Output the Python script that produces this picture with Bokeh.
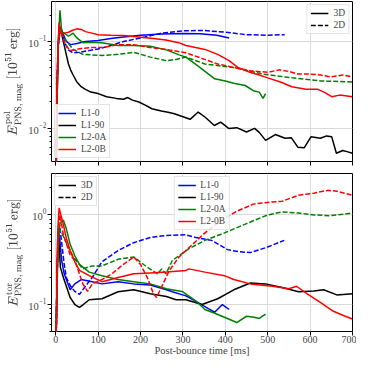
from bokeh.plotting import figure
from bokeh.layouts import column
from bokeh.models import Legend, LegendItem, FixedTicker, Range1d, TeX
from bokeh.embed import file_html
from bokeh.resources import INLINE

# ---------------- data: poloidal magnetic energy (top panel) ----------------
pol_L10_3D_t = [0, 3, 5, 8, 12, 18, 25, 35, 50, 70, 100, 130, 160, 200, 250, 300, 340, 380, 409]
pol_L10_3D_v = [0.001, 0.03, 0.08, 0.12, 0.145, 0.12, 0.1, 0.092, 0.095, 0.1, 0.103, 0.108, 0.113,
                0.118, 0.122, 0.124, 0.123, 0.118, 0.11]
pol_L10_2D_t = [0, 3, 6, 10, 15, 22, 30, 40, 55, 75, 100, 130, 160, 200, 250, 300, 350, 400, 450, 500, 540]
pol_L10_2D_v = [0.001, 0.03, 0.09, 0.13, 0.12, 0.095, 0.08, 0.074, 0.075, 0.078, 0.082, 0.09, 0.1, 0.11,
                0.125, 0.133, 0.134, 0.128, 0.12, 0.118, 0.12]
pol_L190_3D_t = [0, 3, 6, 9, 12, 16, 20, 25, 30, 35, 41, 50, 60, 70, 83, 100, 120, 143, 160, 170, 181,
                 196, 210, 227, 249, 265, 280, 300, 317, 336, 352, 374, 389, 408, 427, 450, 469, 480,
                 495, 518, 541, 556, 571, 586, 602, 624, 639, 651, 662, 677, 689, 700]
pol_L190_3D_v = [0.001, 0.02, 0.09, 0.15, 0.14, 0.11, 0.09, 0.07, 0.055, 0.047, 0.041, 0.034, 0.030,
                 0.028, 0.026, 0.025, 0.023, 0.022, 0.0215, 0.0225, 0.021, 0.020, 0.0185, 0.0167, 0.0157,
                 0.0152, 0.0146, 0.0135, 0.0126, 0.0153, 0.0134, 0.0107, 0.0117, 0.0099, 0.0101, 0.009,
                 0.0099, 0.0089, 0.0072, 0.0084, 0.0076, 0.0077, 0.006, 0.0059, 0.0079, 0.0076, 0.0081,
                 0.0079, 0.0051, 0.0055, 0.0053, 0.0051]
pol_L20A_3D_t = [0, 3, 6, 10, 14, 20, 30, 41, 50, 64, 80, 109, 147, 184, 223, 261, 291, 307, 336, 375,
                 400, 420, 447, 466, 480, 489, 495]
pol_L20A_3D_v = [0.001, 0.02, 0.1, 0.23, 0.13, 0.125, 0.115, 0.125, 0.11, 0.097, 0.098, 0.097, 0.09,
                 0.09, 0.088, 0.08, 0.07, 0.066, 0.052, 0.037, 0.035, 0.033, 0.031, 0.027, 0.026, 0.022, 0.025]
pol_L20A_2D_t = [0, 3, 6, 10, 14, 20, 30, 41, 64, 109, 147, 184, 223, 261, 284, 307, 352, 420, 489, 557, 625, 700]
pol_L20A_2D_v = [0.001, 0.03, 0.1, 0.14, 0.12, 0.11, 0.095, 0.081, 0.071, 0.069, 0.071, 0.075, 0.066,
                 0.06, 0.062, 0.066, 0.055, 0.05, 0.042, 0.038, 0.035, 0.034]
pol_L20B_3D_t = [0, 3, 6, 8, 11, 15, 20, 30, 40, 50, 60, 70, 85, 100, 130, 160, 200, 230, 260, 290, 307,
                 330, 352, 382, 409, 430, 458, 480, 500, 530, 557, 590, 618, 633, 651, 670, 700]
pol_L20B_3D_v = [0.001, 0.02, 0.1, 0.165, 0.13, 0.12, 0.125, 0.128, 0.135, 0.14, 0.138, 0.13, 0.125,
                 0.12, 0.118, 0.117, 0.112, 0.108, 0.104, 0.097, 0.09, 0.085, 0.081, 0.071, 0.06, 0.05,
                 0.044, 0.041, 0.038, 0.034, 0.03, 0.028, 0.028, 0.026, 0.023, 0.024, 0.023]
pol_L20B_2D_t = [0, 3, 6, 10, 14, 20, 28, 35, 45, 60, 80, 110, 147, 184, 223, 261, 307, 340, 382, 420,
                 458, 500, 527, 550, 572, 600, 625, 648, 665, 677, 700]
pol_L20B_2D_v = [0.001, 0.03, 0.1, 0.14, 0.12, 0.1, 0.085, 0.079, 0.08, 0.083, 0.085, 0.085, 0.092,
                 0.092, 0.085, 0.081, 0.074, 0.065, 0.055, 0.05, 0.046, 0.044, 0.047, 0.045, 0.042,
                 0.042, 0.041, 0.039, 0.04, 0.041, 0.039]

# ---------------- data: toroidal magnetic energy (bottom panel) ----------------
tor_L10_3D_t = [0, 3, 7, 10, 14, 20, 25, 34, 45, 60, 86, 109, 147, 184, 223, 261, 275, 307, 336, 360,
                375, 393, 409]
tor_L10_3D_v = [0.02, 0.2, 0.72, 0.5, 0.31, 0.22, 0.19, 0.146, 0.17, 0.19, 0.18, 0.17, 0.18, 0.17,
                0.165, 0.146, 0.139, 0.125, 0.105, 0.09, 0.082, 0.1, 0.088]
tor_L10_2D_t = [0, 3, 6, 10, 15, 20, 25, 35, 45, 56, 70, 86, 109, 147, 184, 223, 261, 307, 330, 368,
                405, 430, 459, 495, 539]
tor_L10_2D_v = [0.02, 0.2, 0.6, 0.72, 0.45, 0.28, 0.2, 0.16, 0.14, 0.13, 0.16, 0.2, 0.3, 0.4, 0.49,
                0.56, 0.59, 0.6, 0.56, 0.52, 0.41, 0.39, 0.38, 0.43, 0.52]
tor_L190_3D_t = [0, 3, 5, 8, 11, 18, 25, 34, 45, 56, 65, 79, 109, 147, 184, 223, 261, 284, 307, 345,
                 382, 420, 459, 495, 534, 573, 609, 632, 663, 700]
tor_L190_3D_v = [0.02, 0.2, 0.65, 0.45, 0.26, 0.2, 0.16, 0.12, 0.1, 0.093, 0.1, 0.113, 0.116, 0.139,
                 0.146, 0.132, 0.123, 0.113, 0.113, 0.1, 0.116, 0.146, 0.174, 0.17, 0.155, 0.139, 0.142,
                 0.146, 0.128, 0.132]
tor_L20A_3D_t = [0, 3, 6, 10, 18, 25, 34, 45, 56, 79, 109, 147, 184, 223, 261, 298, 330, 352, 375, 398,
                 427, 450, 468, 480, 495]
tor_L20A_3D_v = [0.02, 0.15, 0.5, 0.8, 0.88, 0.7, 0.47, 0.35, 0.28, 0.23, 0.21, 0.19, 0.18, 0.17, 0.15,
                 0.14, 0.11, 0.088, 0.08, 0.072, 0.063, 0.074, 0.072, 0.07, 0.078]
tor_L20A_2D_t = [0, 3, 6, 10, 15, 25, 41, 64, 86, 109, 147, 184, 216, 240, 250, 260, 275, 314, 352, 398,
                 450, 500, 534, 573, 609, 648, 700]
tor_L20A_2D_v = [0.02, 0.2, 0.55, 0.67, 0.62, 0.49, 0.34, 0.25, 0.27, 0.27, 0.32, 0.34, 0.26, 0.22,
                 0.25, 0.22, 0.31, 0.42, 0.52, 0.63, 0.8, 1.0, 1.08, 1.05, 1.0, 0.98, 1.05]
tor_L20B_3D_t = [0, 3, 5, 8, 12, 18, 25, 34, 45, 56, 79, 109, 130, 147, 184, 223, 261, 307, 314, 352,
                 398, 420, 459, 511, 550, 568, 595, 625, 655, 680, 700]
tor_L20B_3D_v = [0.02, 0.2, 0.7, 1.2, 1.0, 0.78, 0.55, 0.4, 0.3, 0.24, 0.21, 0.18, 0.19, 0.2, 0.22,
                 0.225, 0.23, 0.24, 0.25, 0.23, 0.21, 0.19, 0.17, 0.16, 0.15, 0.16, 0.13, 0.105, 0.084,
                 0.075, 0.069]
tor_L20B_2D_t = [0, 3, 6, 10, 18, 34, 45, 64, 75, 86, 109, 132, 155, 184, 200, 216, 231, 238, 253, 268,
                 291, 307, 352, 389, 427, 466, 500, 534, 573, 609, 641, 663, 700]
tor_L20B_2D_v = [0.02, 0.2, 0.7, 1.0, 0.6, 0.36, 0.31, 0.17, 0.14, 0.17, 0.19, 0.22, 0.27, 0.34, 0.28,
                 0.2, 0.13, 0.12, 0.17, 0.24, 0.34, 0.4, 0.63, 0.86, 1.1, 1.32, 1.38, 1.42, 1.66, 1.75,
                 1.88, 1.84, 1.66]

models = ["L1-0", "L1-90", "L2-0A", "L2-0B"]
colors = ["#0000ff", "#000000", "#008000", "#ff0000"]
dims = ["3D", "2D"]
x_ticks = [0, 100, 200, 300, 400, 500, 600, 700]
pol_yticks = [0.01, 0.1]
tor_yticks = [0.1, 1.0]
pol_ylim = (0.0041, 0.29)
tor_ylim = (0.05, 2.9)
xlim = (-10, 700)

pol_series = {
    "L1-0": [(pol_L10_3D_t, pol_L10_3D_v), (pol_L10_2D_t, pol_L10_2D_v)],
    "L1-90": [(pol_L190_3D_t, pol_L190_3D_v), None],
    "L2-0A": [(pol_L20A_3D_t, pol_L20A_3D_v), (pol_L20A_2D_t, pol_L20A_2D_v)],
    "L2-0B": [(pol_L20B_3D_t, pol_L20B_3D_v), (pol_L20B_2D_t, pol_L20B_2D_v)],
}
tor_series = {
    "L1-0": [(tor_L10_3D_t, tor_L10_3D_v), (tor_L10_2D_t, tor_L10_2D_v)],
    "L1-90": [(tor_L190_3D_t, tor_L190_3D_v), None],
    "L2-0A": [(tor_L20A_3D_t, tor_L20A_3D_v), (tor_L20A_2D_t, tor_L20A_2D_v)],
    "L2-0B": [(tor_L20B_3D_t, tor_L20B_3D_v), (tor_L20B_2D_t, tor_L20B_2D_v)],
}

SERIF = "'Liberation Serif'"
DASH = "5 2"


def minor_log(lo, hi):
    out = []
    d = 1e-4
    while d < hi * 10:
        for m in range(2, 10):
            v = m * d
            if lo <= v <= hi:
                out.append(v)
        d *= 10
    return out


def make_fig(height, ylim, yticks, series, ylabel, show_x, mbt, mbb):
    p = figure(width=356, height=height, y_axis_type="log", output_backend="svg",
               toolbar_location=None, x_range=Range1d(*xlim), y_range=Range1d(*ylim),
               min_border_left=40, min_border_right=4, min_border_top=mbt, min_border_bottom=mbb)
    p.outline_line_color = "black"
    p.outline_line_width = 1
    p.background_fill_color = "white"
    xt = FixedTicker(ticks=x_ticks, minor_ticks=[])
    yt = FixedTicker(ticks=yticks, minor_ticks=minor_log(*ylim))
    p.xaxis.ticker = xt
    p.yaxis.ticker = yt
    p.xgrid.ticker = xt
    p.ygrid.ticker = yt
    for g in (p.xgrid, p.ygrid):
        g.grid_line_color = "#d9d9d9"
        g.grid_line_width = 1
    for ax in (p.xaxis, p.yaxis):
        ax.axis_line_color = None
        ax.major_tick_in = 0
        ax.major_tick_out = 4
        ax.minor_tick_in = 0
        ax.minor_tick_out = 2
        ax.major_label_text_font = SERIF
        ax.major_label_text_font_size = "10.5px"
        ax.major_label_standoff = 1
        ax.axis_label_text_font = SERIF
        ax.axis_label_text_font_style = "normal"
        ax.axis_label_text_font_size = "11px"
    p.xaxis.minor_tick_line_color = None
    p.yaxis.axis_label = TeX(text=ylabel)
    p.yaxis.axis_label_text_font_size = "12.5px"
    p.yaxis.axis_label_standoff = 2
    if show_x:
        p.xaxis.axis_label = "Post-bounce time [ms]"
        p.xaxis.major_label_text_font_size = "10px"
        p.xaxis.axis_label_text_font_size = "10.5px"
        p.xaxis.major_label_standoff = 0
        p.xaxis.axis_label_standoff = -1
    else:
        p.xaxis.major_label_overrides = {t: "" for t in x_ticks}
        p.xaxis.major_label_standoff = 0

    model_items = []
    for m, c in zip(models, colors):
        s3, s2 = series[m]
        r3 = p.line(s3[0], s3[1], line_color=c, line_width=1.5)
        if s2 is not None:
            p.line(s2[0], s2[1], line_color=c, line_width=1.5, line_dash=DASH)
        model_items.append(LegendItem(label=m, renderers=[r3]))
    # style-only renderers for the 3D / 2D key (placed outside the visible range)
    d3 = p.line([-1000, -900], [1, 1], line_color="black", line_width=1.5)
    d2 = p.line([-1000, -900], [1, 1], line_color="black", line_width=1.5, line_dash=DASH)
    dim_items = [LegendItem(label=dims[0], renderers=[d3]), LegendItem(label=dims[1], renderers=[d2])]
    return p, model_items, dim_items


def style_legend(lg):
    lg.label_text_font = SERIF
    lg.label_text_font_size = "9.5px"
    lg.label_height = 10
    lg.label_width = 0
    lg.glyph_height = 10
    lg.glyph_width = 18
    lg.spacing = 2
    lg.padding = 3
    lg.margin = 3
    lg.label_standoff = 5
    lg.border_line_color = "#cccccc"
    lg.border_line_width = 1
    lg.background_fill_alpha = 0.85
    return lg


p1, m1, d1 = make_fig(167, pol_ylim, pol_yticks, pol_series,
                      r"E^{\rm pol}_{\rm PNS,\,mag}\ [10^{51}\,{\rm erg}]", False, 1, 6)
p2, m2, d2 = make_fig(191, tor_ylim, tor_yticks, tor_series,
                      r"E^{\rm tor}_{\rm PNS,\,mag}\ [10^{51}\,{\rm erg}]", True, 6, 24)

p1.add_layout(style_legend(Legend(items=m1, location="bottom_left")), "center")
p1.add_layout(style_legend(Legend(items=d1, location="top_right")), "center")
p2.add_layout(style_legend(Legend(items=d2, location="top_left")), "center")
p2.add_layout(style_legend(Legend(items=m2, location="top_center")), "center")

layout = column(p1, p2, spacing=0)
open("out.html", "w").write(file_html(layout, INLINE))
